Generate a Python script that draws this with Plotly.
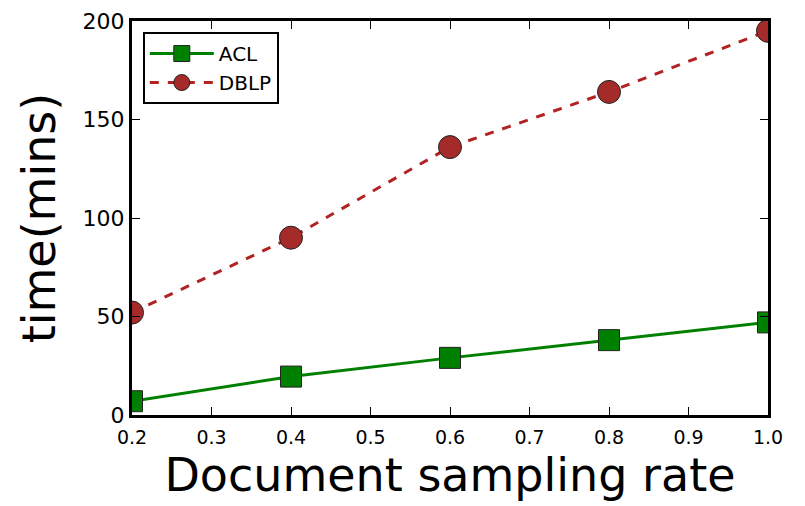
import plotly.graph_objects as go

x_vals = [0.2, 0.4, 0.6, 0.8, 1.0]
acl = [7, 19.5, 29, 38, 47]
dblp = [52, 90, 136, 164, 195]
x_ticks = [0.2, 0.3, 0.4, 0.5, 0.6, 0.7, 0.8, 0.9, 1.0]
x_ticklabels = ["0.2", "0.3", "0.4", "0.5", "0.6", "0.7", "0.8", "0.9", "1.0"]
y_ticks = [0, 50, 100, 150, 200]

fig = go.Figure()
fig.add_trace(go.Scatter(
    x=x_vals, y=acl, name="ACL", mode="lines+markers",
    line=dict(color="#008000", width=3),
    marker=dict(symbol="square", size=21, color="#008000", line=dict(color="#222222", width=1)),
))
fig.add_trace(go.Scatter(
    x=x_vals, y=dblp, name="DBLP", mode="lines+markers",
    line=dict(color="#b22222", width=3, dash="dash"),
    marker=dict(symbol="circle", size=23, color="#a52a2a", line=dict(color="#222222", width=1)),
))

axis_common = dict(
    showgrid=False, zeroline=False, showline=True, linecolor="black", linewidth=3,
    mirror="allticks", ticks="inside", ticklen=8, tickwidth=1, tickcolor="black",
    automargin=False,
)
fig.update_layout(
    width=805, height=506,
    margin=dict(l=124, r=45, t=13, b=99),
    paper_bgcolor="white", plot_bgcolor="white",
    font=dict(family="DejaVu Sans", color="black"),
    showlegend=True,
    legend=dict(
        x=0.017, y=0.972, xanchor="left", yanchor="top",
        bordercolor="black", borderwidth=2, bgcolor="white",
        font=dict(size=20, family="DejaVu Sans"),
        itemwidth=64, tracegroupgap=6,
    ),
    xaxis=dict(
        range=[0.2, 1.0], tickvals=x_ticks, ticktext=x_ticklabels,
        tickfont=dict(size=19), ticklabelstandoff=3,
        title=dict(text="Document sampling rate", font=dict(size=46), standoff=12),
        **axis_common,
    ),
    yaxis=dict(
        range=[0, 200], tickvals=y_ticks,
        tickfont=dict(size=22),
        title=dict(text="time(mins)", font=dict(size=46), standoff=13),
        **axis_common,
    ),
)
fig.write_html("out.html")
